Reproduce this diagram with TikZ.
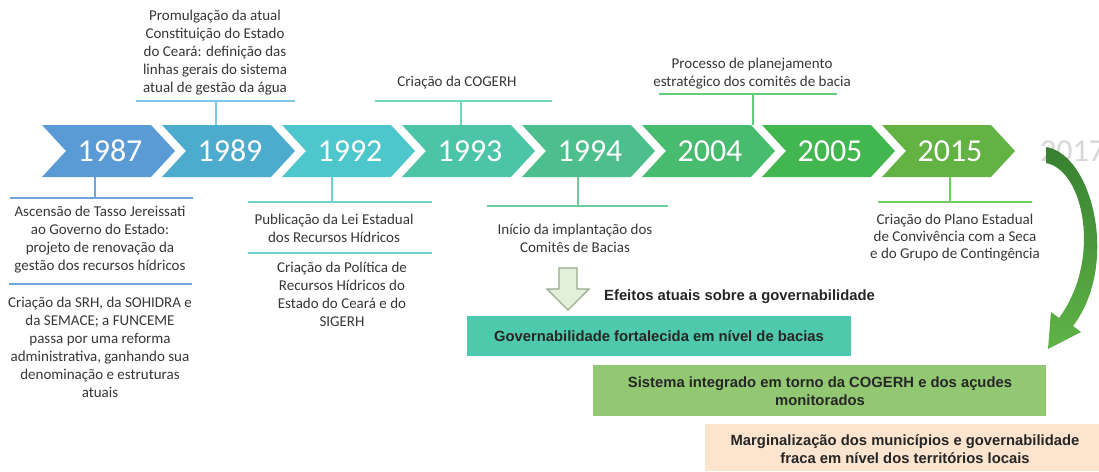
\documentclass[tikz,border=0pt]{standalone}
\usepackage{fontspec}
\setmainfont{Carlito}
\newfontfamily\arialfont{Liberation Sans}
\definecolor{c1}{RGB}{91,155,213}
\definecolor{c2}{RGB}{77,172,206}
\definecolor{c3}{RGB}{77,199,203}
\definecolor{c4}{RGB}{76,196,168}
\definecolor{c5}{RGB}{76,191,140}
\definecolor{c6}{RGB}{72,188,110}
\definecolor{c7}{RGB}{66,183,80}
\definecolor{c8}{RGB}{98,178,68}
\definecolor{l1}{RGB}{110,165,220}
\definecolor{l2}{RGB}{120,200,230}
\definecolor{l3}{RGB}{110,210,210}
\definecolor{l4}{RGB}{110,215,180}
\definecolor{l5}{RGB}{110,205,155}
\definecolor{l6}{RGB}{100,205,125}
\definecolor{l8}{RGB}{110,205,95}
\definecolor{tgray}{RGB}{55,55,55}
\definecolor{boxa}{RGB}{78,201,172}
\definecolor{boxb}{RGB}{147,200,115}
\definecolor{boxc}{RGB}{252,228,206}
\definecolor{dfill}{RGB}{226,240,217}
\definecolor{ddraw}{RGB}{150,170,140}
\definecolor{arrdark}{RGB}{56,128,50}
\definecolor{arrlight}{RGB}{95,180,70}
\definecolor{ghost}{RGB}{215,215,215}
\begin{document}
\begin{tikzpicture}[x=1pt,y=-1pt,
  txt/.style={font=\fontsize{15}{18}\selectfont, text=tgray, align=center, inner sep=0pt},
  yeartxt/.style={font=\fontsize{32}{34}\selectfont, text=white, inner sep=0pt},
  boxtxt/.style={font=\arialfont\bfseries\fontsize{14.8}{18.5}\selectfont, text=black!85, align=center, inner sep=0pt},
  callout/.style={line width=2.5pt}
]
\useasboundingbox (0,0) rectangle (1099,471);
\fill[white] (0,0) rectangle (1099,471);

% chevrons
\foreach \i/\yr/\col in {0/1987/c1,1/1989/c2,2/1992/c3,3/1993/c4,4/1994/c5,5/2004/c6,6/2005/c7,7/2015/c8}{
  \pgfmathsetmacro\L{42+120*\i}
  \fill[\col] (\L,125) -- ++(109,0) -- ++(24,26) -- ++(-24,26) -- ++(-109,0) -- ++(24,-26) -- cycle;
  \node[yeartxt] (y\yr) at (\L+68,151) {\yr};
}
\node[yeartxt, text=ghost, anchor=west] (y2017) at (1040,151) {2017};

% 1987
\coordinate (a1) at (95,177); \coordinate (a2) at (95,198);
\draw[callout,l1] (a1) -- (a2);
\draw[callout,l1] (10,198) -- (193,198);
\node[txt] (t1987a) at (100,240) {Ascensão de Tasso Jereissati\\ao Governo do Estado:\\projeto de renovação da\\gestão dos recursos hídricos};
\draw[callout,l1] (9,284) -- (192,284);
\node[txt] (t1987b) at (100,347) {Criação da SRH, da SOHIDRA e\\da SEMACE; a FUNCEME\\passa por uma reforma\\administrativa, ganhando sua\\denominação e estruturas\\atuais};

% 1989
\draw[callout,l2] (216,125) -- (216,101);
\draw[callout,l2] (136,101) -- (295,101);
\node[txt] (t1989) at (215,53) {Promulgação da atual\\Constituição do Estado\\do Ceará: definição das\\linhas gerais do sistema\\atual de gestão da água};

% 1992
\draw[callout,l3] (332,177) -- (332,202);
\draw[callout,l3] (248,202) -- (432,202);
\node[txt] (t1992a) at (334,228) {Publicação da Lei Estadual\\dos Recursos Hídricos};
\draw[callout,l3] (248,253) -- (432,253);
\node[txt] (t1992b) at (342,294) {Criação da Política de\\Recursos Hídricos do\\Estado do Ceará e do\\SIGERH};

% 1993
\draw[callout,l4] (461,125) -- (461,101);
\draw[callout,l4] (375,101) -- (552,101);
\node[txt] (t1993) at (457,83) {Criação da COGERH};

% 1994
\draw[callout,l5] (578,177) -- (578,206);
\draw[callout,l5] (487,206) -- (668,206);
\node[txt] (t1994) at (575,238) {Início da implantação dos\\Comitês de Bacias};

% 2004
\draw[callout,l6] (753,125) -- (753,94);
\draw[callout,l6] (659,94) -- (837,94);
\node[txt] (t2004) at (752,74) {Processo de planejamento\\estratégico dos comitês de bacia};

% 2015
\draw[callout,l8] (950,177) -- (950,202);
\draw[callout,l8] (878,202) -- (1032,202);
\node[txt, font=\fontsize{15}{17}\selectfont] (t2015) at (955,238) {Criação do Plano Estadual\\de Convivência com a Seca\\e do Grupo de Contingência};

% down arrow
\filldraw[fill=dfill, draw=ddraw, line width=1.2pt, line join=miter]
  (559,268) -- (577,268) -- (577,289) -- (589,289) -- (568,310) -- (547,289) -- (559,289) -- cycle;
\node[boxtxt, anchor=west] (eff) at (604,297) {Efeitos atuais sobre a governabilidade};

% boxes
\fill[boxa] (467,316) rectangle (851,356);
\node[boxtxt] (b1) at (659,336) {Governabilidade fortalecida em nível de bacias};
\fill[boxb] (593,365) rectangle (1046,416);
\node[boxtxt] (b2) at (820,391) {Sistema integrado em torno da COGERH e dos açudes\\monitorados};
\fill[boxc] (705,424) rectangle (1099,471);
\node[boxtxt] (b3) at (905,449) {Marginalização dos municípios e governabilidade\\fraca em nível dos territórios locais};

% curved arrow
\shade[top color=arrdark, bottom color=arrlight]
  (1046,147) .. controls (1092,154) and (1120,264) .. (1073,326)
  -- (1081,332) -- (1048,349) -- (1051,312) -- (1059,318)
  .. controls (1102,260) and (1084,170) .. (1046,163) -- cycle;
\end{tikzpicture}
\end{document}
